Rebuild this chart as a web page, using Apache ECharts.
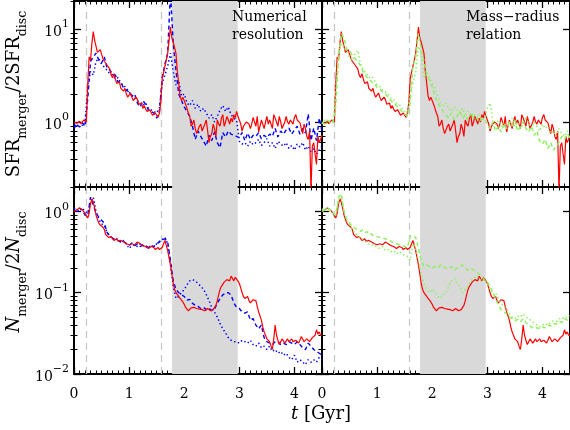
<!DOCTYPE html>
<html><head><meta charset="utf-8">
<script src="https://cdn.jsdelivr.net/npm/echarts@6/dist/echarts.min.js"></script>
<style>html,body{margin:0;padding:0;background:#fff}#c{width:570px;height:430px}</style>
</head><body><div id="c"></div>
<script>
// time axis (Gyr) for the comparison runs
const t = [0,0.05,0.1,0.15,0.2,0.25,0.3,0.35,0.4,0.45,0.5,0.55,0.6,0.65,0.7,0.75,0.8,0.85,0.9,0.95,1,1.05,1.1,1.15,1.2,1.25,1.3,1.35,1.4,1.45,1.5,1.55,1.6,1.65,1.7,1.75,1.8,1.85,1.9,1.95,2,2.05,2.1,2.15,2.2,2.25,2.3,2.35,2.4,2.45,2.5,2.55,2.6,2.65,2.7,2.75,2.8,2.85,2.9,2.95,3,3.05,3.1,3.15,3.2,3.25,3.3,3.35,3.4,3.45,3.5,3.55,3.6,3.65,3.7,3.75,3.8,3.85,3.9,3.95,4,4.05,4.1,4.15,4.2,4.25,4.3,4.35,4.4,4.45,4.5];
// finer time axis (Gyr) for the fiducial run
const tFine = [0,0.025,0.05,0.075,0.1,0.125,0.15,0.175,0.2,0.225,0.25,0.275,0.3,0.325,0.35,0.375,0.4,0.425,0.45,0.475,
  0.5,0.525,0.55,0.575,0.6,0.625,0.65,0.675,0.7,0.725,0.75,0.775,0.8,0.825,0.85,0.875,0.9,0.925,0.95,0.975,
  1,1.025,1.05,1.075,1.1,1.125,1.15,1.175,1.2,1.225,1.25,1.275,1.3,1.325,1.35,1.375,1.4,1.425,1.45,1.475,
  1.5,1.525,1.55,1.575,1.6,1.625,1.65,1.675,1.7,1.725,1.75,1.775,1.8,1.825,1.85,1.875,1.9,1.925,1.95,1.975,
  2,2.025,2.05,2.075,2.1,2.125,2.15,2.175,2.2,2.225,2.25,2.275,2.3,2.325,2.35,2.375,2.4,2.425,2.45,2.475,
  2.5,2.525,2.55,2.575,2.6,2.625,2.65,2.675,2.7,2.725,2.75,2.775,2.8,2.825,2.85,2.875,2.9,2.925,2.95,2.975,
  3,3.025,3.05,3.075,3.1,3.125,3.15,3.175,3.2,3.225,3.25,3.275,3.3,3.325,3.35,3.375,3.4,3.425,3.45,3.475,
  3.5,3.525,3.55,3.575,3.6,3.625,3.65,3.675,3.7,3.725,3.75,3.775,3.8,3.825,3.85,3.875,3.9,3.925,3.95,3.975,
  4,4.025,4.05,4.075,4.1,4.125,4.15,4.175,4.2,4.225,4.25,4.275,4.3,4.325,4.35,4.375,4.4,4.425,4.45,4.475,
  4.5];

// SFR_merger / 2 SFR_disc
const redTop = [1.0,1.03,0.97,0.93,1.02,0.96,0.95,1.05,1.1,1.0,2.6,5.0,4.6,7.0,9.4,7.5,6.5,5.6,5.4,6.0,
  5.8,4.8,4.5,4.7,4.1,4.0,3.7,3.2,3.0,3.3,2.9,2.6,2.5,2.7,2.3,2.4,2.15,2.3,2.0,1.85,
  1.9,2.05,1.85,1.7,1.65,1.85,1.75,1.55,1.5,1.6,1.4,1.5,1.38,1.3,1.25,1.35,1.3,1.18,1.15,1.25,
  1.2,1.12,1.25,1.6,2.9,3.4,4.0,4.6,5.5,7.5,10.5,8.0,7.2,7.0,5.5,3.5,2.6,1.9,1.7,1.85,
  1.8,1.55,1.4,1.25,1.15,0.9,0.95,1.05,0.85,0.75,0.72,0.9,0.95,0.8,0.78,0.95,1.05,0.8,0.6,0.7,
  0.75,0.95,0.85,0.7,1.05,0.95,0.9,1.1,1.2,0.9,1.0,1.15,1.05,0.95,1.1,1.0,1.2,1.1,1.3,1.15,
  1.05,0.95,0.8,0.9,0.88,1.0,1.05,0.95,0.85,0.95,1.12,1.0,0.9,1.15,0.78,0.8,1.05,0.95,0.85,1.0,
  1.15,0.95,1.05,0.95,0.85,1.2,1.1,1.0,0.9,1.15,1.0,0.85,0.88,1.0,1.15,1.0,0.95,1.05,1.1,0.95,
  1.12,1.2,1.05,1.1,0.98,0.85,0.75,0.95,0.85,0.7,0.65,0.8,0.18,0.55,0.6,0.45,0.35,0.7,0.6,0.65,
  0.72];
const blueDashTop = [0.85,0.95,0.88,0.98,0.9,1.8,4.5,5.0,5.5,4.6,
  4.3,5.0,3.8,3.6,3.3,3.2,2.7,2.7,2.3,2.2,
  2.1,1.9,2.0,1.6,1.45,1.7,1.55,1.35,1.3,1.25,
  1.1,1.3,3.0,4.2,5.5,25,7.0,3.6,2.0,1.7,
  1.45,1.3,1.15,0.9,0.65,0.8,0.7,0.62,0.55,0.72,
  0.63,0.78,0.6,0.53,0.77,0.69,0.8,0.74,0.72,0.7,
  0.68,0.77,0.63,0.76,0.65,0.72,0.7,0.77,0.66,0.72,
  0.68,0.74,0.7,0.85,0.69,0.8,0.74,0.82,0.86,0.74,
  0.82,0.9,0.74,0.85,0.76,1.22,0.63,0.86,0.63,1.1,
  0.8];
const blueDotTop = [0.95,0.9,1.0,0.92,0.95,2.5,3.5,3.2,4.5,4.8,
  4.2,3.9,3.6,3.3,3.2,2.9,3.0,2.6,2.5,2.3,
  2.1,1.9,1.85,1.7,1.6,1.5,1.6,1.4,1.35,1.3,
  1.25,1.4,2.6,3.2,4.0,5.5,3.5,2.5,2.8,1.9,
  2.0,1.6,1.5,1.7,1.4,1.55,1.3,1.4,1.25,1.1,
  1.2,1.0,1.15,1.35,1.5,1.3,1.45,1.2,1.1,1.05,
  0.62,0.58,0.6,0.55,0.62,0.57,0.6,0.65,0.56,0.6,
  0.66,0.55,0.6,0.52,0.62,0.58,0.55,0.6,0.52,0.56,
  0.5,0.58,0.54,0.6,0.5,0.55,0.48,0.52,0.45,0.5,
  0.55];
const greenDashTop = [1.0,0.95,1.05,1.0,0.98,1.5,5.0,9.0,8.0,6.0,
  5.8,5.2,4.8,4.5,4.0,3.4,3.1,2.9,2.7,2.6,
  2.35,2.25,2.1,2.0,1.85,1.7,1.6,1.5,1.4,1.3,
  1.22,1.15,1.6,3.9,5.0,9.0,6.0,4.5,3.2,2.8,
  2.4,1.9,1.6,1.45,1.3,1.2,1.1,1.25,1.05,1.15,
  1.3,1.1,1.2,1.05,1.25,1.1,1.15,1.0,1.1,1.05,
  0.95,0.85,1.0,0.8,0.9,0.78,0.95,0.85,1.0,0.9,
  1.05,0.8,0.9,1.0,0.85,0.78,0.9,0.72,0.8,0.62,
  0.58,0.65,0.52,0.6,0.5,0.55,0.6,0.7,0.65,0.75,
  0.68];
const greenDotTop = [0.95,1.05,0.95,1.0,1.05,2.0,5.5,7.0,6.5,5.5,
  5.0,4.6,5.5,5.9,4.2,3.6,3.4,3.0,3.1,2.8,
  2.5,2.4,2.2,2.1,2.0,1.8,1.75,1.6,1.55,1.4,
  1.3,1.2,2.0,2.6,3.5,6.5,5.5,3.0,3.4,3.0,
  2.6,2.3,1.9,1.6,1.5,1.6,1.4,1.3,1.45,1.35,
  1.25,1.4,1.2,1.3,1.15,1.25,1.1,1.2,1.05,1.1,
  1.4,1.6,1.0,0.95,1.05,0.9,1.0,0.85,0.95,1.1,
  0.9,1.0,0.85,0.95,1.15,0.95,0.85,1.0,0.9,0.8,
  0.95,0.85,0.9,0.75,0.8,0.7,0.85,0.75,0.7,0.8,
  0.75];

// N_merger / 2 N_disc
const redBot = [1.0,1.02,1.05,1.08,1.1,1.07,1.05,1.0,0.95,0.88,0.83,0.95,1.25,1.43,1.3,1.1,0.9,0.8,0.72,0.68,
  0.65,0.64,0.6,0.52,0.5,0.48,0.46,0.49,0.48,0.44,0.45,0.46,0.43,0.42,0.44,0.43,0.42,0.41,0.4,0.41,
  0.39,0.4,0.4,0.38,0.39,0.41,0.42,0.4,0.4,0.38,0.38,0.37,0.37,0.36,0.35,0.37,0.37,0.35,0.36,0.34,
  0.35,0.36,0.34,0.33,0.36,0.4,0.44,0.38,0.33,0.27,0.22,0.17,0.13,0.11,0.10,0.095,0.09,0.085,0.081,0.077,
  0.072,0.066,0.063,0.06,0.061,0.065,0.067,0.066,0.066,0.064,0.065,0.063,0.064,0.062,0.063,0.06,0.061,0.064,0.063,0.06,
  0.059,0.062,0.064,0.07,0.08,0.095,0.11,0.12,0.125,0.135,0.14,0.145,0.15,0.14,0.16,0.15,0.14,0.155,0.15,0.14,
  0.13,0.115,0.10,0.09,0.085,0.088,0.09,0.08,0.075,0.078,0.082,0.085,0.08,0.068,0.058,0.052,0.046,0.038,0.033,0.03,
  0.027,0.026,0.025,0.022,0.02,0.027,0.04,0.03,0.026,0.023,0.024,0.027,0.026,0.024,0.024,0.027,0.025,0.024,0.027,0.025,
  0.024,0.026,0.025,0.024,0.026,0.029,0.028,0.025,0.025,0.027,0.026,0.025,0.026,0.028,0.029,0.03,0.035,0.031,0.033,0.03,
  0.03];
const blueDashBot = [1.05,1.0,1.1,1.05,0.9,0.9,1.5,1.2,0.95,0.85,
  0.78,0.72,0.55,0.5,0.47,0.45,0.44,0.42,0.43,0.4,
  0.38,0.41,0.38,0.4,0.37,0.39,0.38,0.36,0.38,0.37,
  0.4,0.42,0.45,0.46,0.42,0.25,0.14,0.11,0.10,0.095,
  0.09,0.081,0.083,0.074,0.07,0.068,0.064,0.066,0.062,0.065,
  0.06,0.063,0.074,0.085,0.094,0.1,0.1,0.094,0.075,0.066,
  0.064,0.058,0.056,0.058,0.046,0.048,0.04,0.036,0.04,0.028,
  0.025,0.024,0.023,0.025,0.025,0.023,0.024,0.023,0.025,0.024,
  0.023,0.025,0.023,0.021,0.02,0.024,0.022,0.02,0.019,0.018,
  0.017];
const blueDotBot = [1.1,1.05,1.0,1.1,1.0,0.95,1.3,1.5,1.0,0.8,
  0.7,0.68,0.55,0.5,0.45,0.47,0.45,0.42,0.44,0.4,
  0.35,0.38,0.39,0.37,0.4,0.38,0.36,0.38,0.36,0.37,
  0.4,0.43,0.45,0.48,0.4,0.22,0.12,0.085,0.09,0.1,
  0.11,0.125,0.14,0.145,0.14,0.13,0.12,0.11,0.095,0.08,
  0.066,0.058,0.05,0.042,0.036,0.032,0.028,0.026,0.025,0.025,
  0.024,0.026,0.025,0.024,0.026,0.023,0.022,0.024,0.021,0.022,
  0.02,0.022,0.019,0.02,0.018,0.019,0.017,0.018,0.016,0.015,
  0.017,0.014,0.015,0.014,0.013,0.015,0.014,0.015,0.014,0.016,
  0.015];
const greenDashBot = [1.0,1.05,1.1,1.05,0.95,0.9,1.5,1.65,1.0,0.8,
  0.72,0.65,0.62,0.6,0.57,0.6,0.55,0.57,0.52,0.5,
  0.49,0.48,0.47,0.46,0.45,0.43,0.41,0.4,0.39,0.38,
  0.37,0.36,0.5,0.5,0.48,0.35,0.25,0.21,0.22,0.21,
  0.2,0.21,0.2,0.22,0.21,0.2,0.2,0.21,0.19,0.2,
  0.21,0.22,0.2,0.19,0.2,0.19,0.18,0.17,0.16,0.14,
  0.135,0.12,0.1,0.085,0.07,0.062,0.058,0.055,0.05,0.048,
  0.045,0.047,0.044,0.048,0.043,0.04,0.038,0.036,0.037,0.036,
  0.038,0.037,0.04,0.039,0.042,0.041,0.044,0.043,0.048,0.046,
  0.045];
const greenDotBot = [1.05,1.1,1.05,1.0,0.95,0.9,1.4,1.5,1.0,0.78,
  0.68,0.6,0.55,0.5,0.48,0.45,0.42,0.4,0.38,0.39,
  0.36,0.35,0.37,0.33,0.34,0.32,0.33,0.3,0.32,0.3,
  0.29,0.28,0.25,0.4,0.35,0.25,0.17,0.13,0.11,0.1,
  0.11,0.1,0.09,0.085,0.095,0.1,0.12,0.14,0.15,0.13,
  0.12,0.1,0.11,0.12,0.14,0.15,0.16,0.15,0.14,0.15,
  0.13,0.11,0.095,0.1,0.085,0.075,0.068,0.062,0.055,0.05,
  0.048,0.052,0.05,0.055,0.05,0.048,0.045,0.042,0.04,0.038,
  0.04,0.042,0.04,0.043,0.045,0.044,0.047,0.05,0.048,0.05,
  0.052];

// ticks / annotations
const xMajorTicks = [0,1,2,3,4];
const topMajorTicks = [1,10];
const topMinorTicks = [0.2,0.3,0.4,0.5,0.6,0.7,0.8,0.9,2,3,4,5,6,7,8,9,20];
const botMajorTicks = [0.01,0.1,1];
const botMinorTicks = [0.02,0.03,0.04,0.05,0.06,0.07,0.08,0.09,0.2,0.3,0.4,0.5,0.6,0.7,0.8,0.9,2];
const mergerTimes = [0.23,1.59];
const bandRange = [1.78,2.97];
const panelTitles = ['Numerical\nresolution','Mass\u2212radius\nrelation'];

const xMinorTicks = [];
for (let i = 1; i < 45; i++) if (i % 10) xMinorTicks.push(i / 10);

const FONT = 'DejaVu Serif';
const BLACK = '#000';
const RED = '#ff0000', BLUE = '#0000ff', GREEN = '#8ef060';

const grids = [
  {left:74, top:1, width:248, height:186},
  {left:322, top:1, width:248, height:186},
  {left:74, top:187, width:248, height:187},
  {left:322, top:187, width:248, height:187}
];

const axLine = {show:true, onZero:false, lineStyle:{color:BLACK, width:2}};
function tickMaj(vals){ return {show:true, inside:true, length:7, customValues:vals, lineStyle:{color:BLACK, width:1.3}}; }
function tickMin(vals){ return {show:true, inside:true, length:3.5, customValues:vals, lineStyle:{color:BLACK, width:1}}; }

const xAxes = [], yAxes = [];
function addX(gi, labels){
  const c = {type:'value', gridIndex:gi, min:0, max:4.5, splitLine:{show:false}};
  xAxes.push(
    {...c, position:'bottom', axisLine:axLine, axisTick:tickMaj(xMajorTicks),
      axisLabel:{show:labels, customValues:xMajorTicks, margin:13, color:BLACK, fontFamily:FONT, fontSize:14}},
    {...c, position:'bottom', axisLine:{show:false}, axisTick:tickMin(xMinorTicks), axisLabel:{show:false}},
    {...c, position:'top', axisLine:axLine, axisTick:tickMaj(xMajorTicks), axisLabel:{show:false}},
    {...c, position:'top', axisLine:{show:false}, axisTick:tickMin(xMinorTicks), axisLabel:{show:false}}
  );
}
function powLabel(v){
  const e = Math.round(Math.log10(v));
  return '{b|10}{e|' + (e < 0 ? '\u2212' + (-e) : e) + '}';
}
function addY(gi, min, max, maj, mino, labels){
  const c = {type:'log', logBase:10, gridIndex:gi, min:min, max:max, splitLine:{show:false}};
  yAxes.push(
    {...c, position:'left', axisLine:axLine, axisTick:tickMaj(maj),
      axisLabel:{show:labels, customValues:maj, margin:5, formatter:powLabel,
        rich:{b:{fontFamily:FONT, fontSize:14, lineHeight:20, verticalAlign:'bottom', color:BLACK},
              e:{fontFamily:FONT, fontSize:11, lineHeight:10, verticalAlign:'top', color:BLACK}}}},
    {...c, position:'left', axisLine:{show:false}, axisTick:tickMin(mino), axisLabel:{show:false}},
    {...c, position:'right', axisLine:axLine, axisTick:tickMaj(maj), axisLabel:{show:false}},
    {...c, position:'right', axisLine:{show:false}, axisTick:tickMin(mino), axisLabel:{show:false}}
  );
}
addX(0,false); addX(1,false); addX(2,true); addX(3,true);
addY(0,0.2,20,topMajorTicks,topMinorTicks,true);
addY(1,0.2,20,topMajorTicks,topMinorTicks,false);
addY(2,0.01,2,botMajorTicks,botMinorTicks,true);
addY(3,0.01,2,botMajorTicks,botMinorTicks,false);

function pairs(times, vals){ return times.map((x,i)=>[x, vals[i]]); }
const DASH = [4,3], DOT = [1.4,2.6];
function ser(gi, times, vals, color, type, width, z, withMarks){
  const s = {type:'line', xAxisIndex:gi*4, yAxisIndex:gi*4, data:pairs(times, vals), showSymbol:false, symbol:'none',
    lineStyle:{color:color, width:width, type:type}, z:z, silent:true, animation:false};
  if (withMarks){
    s.markArea = {silent:true, z:1, itemStyle:{color:'#d9d9d9'}, data:[[{xAxis:bandRange[0]},{xAxis:bandRange[1]}]]};
    s.markLine = {silent:true, z:1, symbol:['none','none'], label:{show:false},
      lineStyle:{color:'#c8c8c8', type:[7,5], width:1.3}, data:mergerTimes.map(v=>({xAxis:v}))};
  }
  return s;
}
const series = [
  ser(0, t, blueDotTop, BLUE, DOT, 1.5, 2, true),
  ser(0, t, blueDashTop, BLUE, DASH, 1.4, 3, false),
  ser(0, tFine, redTop, RED, 'solid', 1.2, 4, false),
  ser(1, tFine, redTop, RED, 'solid', 1.2, 2, true),
  ser(1, t, greenDotTop, GREEN, DOT, 1.6, 3, false),
  ser(1, t, greenDashTop, GREEN, DASH, 1.5, 4, false),
  ser(2, t, blueDotBot, BLUE, DOT, 1.5, 2, true),
  ser(2, t, blueDashBot, BLUE, DASH, 1.4, 3, false),
  ser(2, tFine, redBot, RED, 'solid', 1.2, 4, false),
  ser(3, tFine, redBot, RED, 'solid', 1.2, 2, true),
  ser(3, t, greenDotBot, GREEN, DOT, 1.6, 3, false),
  ser(3, t, greenDashBot, GREEN, DASH, 1.5, 4, false)
];

const graphic = [
  {type:'text', x:232, y:8, z:10, style:{text:panelTitles[0], fontFamily:FONT, fontSize:14, lineHeight:18, fill:BLACK, align:'left', verticalAlign:'top'}},
  {type:'text', x:466, y:8, z:10, style:{text:panelTitles[1], fontFamily:FONT, fontSize:14, lineHeight:18, fill:BLACK, align:'left', verticalAlign:'top'}},
  {type:'text', x:17, y:94, rotation:Math.PI/2, z:10, style:{text:'{m|SFR}{s|merger}{m|/2SFR}{s|disc}', align:'center', verticalAlign:'middle',
    rich:{m:{fontFamily:FONT, fontSize:18, lineHeight:24, verticalAlign:'top', fill:BLACK},
          s:{fontFamily:FONT, fontSize:12.5, lineHeight:12, verticalAlign:'bottom', fill:BLACK}}}},
  {type:'text', x:17, y:272, rotation:Math.PI/2, z:10, style:{text:'{n|N}{s|merger}{m|/2}{n|N}{s|disc}', align:'center', verticalAlign:'middle',
    rich:{m:{fontFamily:FONT, fontSize:18, lineHeight:24, verticalAlign:'top', fill:BLACK},
          n:{fontFamily:FONT, fontSize:18, fontStyle:'italic', lineHeight:24, verticalAlign:'top', fill:BLACK},
          s:{fontFamily:FONT, fontSize:12.5, lineHeight:12, verticalAlign:'bottom', fill:BLACK}}}},
  {type:'text', x:321, y:414, z:10, style:{text:'{i|t} [Gyr]', fontFamily:FONT, fontSize:18, fill:BLACK, align:'center', verticalAlign:'middle',
    rich:{i:{fontFamily:FONT, fontSize:18, fontStyle:'italic', fill:BLACK}}}}
];

const chart = echarts.init(document.getElementById('c'), null, {renderer:'canvas'});
chart.setOption({animation:false, backgroundColor:'#fff', grid:grids, xAxis:xAxes, yAxis:yAxes, series:series, graphic:graphic});
</script>
</body></html>
